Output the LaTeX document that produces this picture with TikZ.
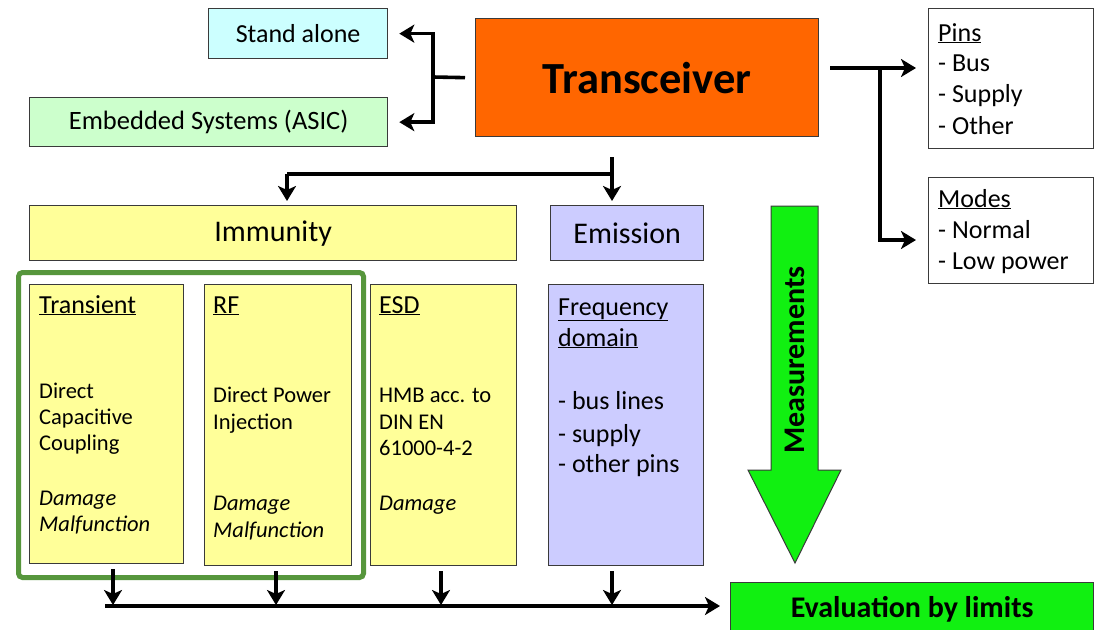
\documentclass[tikz,border=0pt]{standalone}
\usepackage{fontspec}
\setmainfont{Carlito}
\usetikzlibrary{arrows.meta}
\definecolor{cyanbg}{HTML}{CCFFFF}
\definecolor{greenbg}{HTML}{CCFFCC}
\definecolor{orangebg}{HTML}{FF6600}
\definecolor{yellowbg}{HTML}{FFFF99}
\definecolor{lilacbg}{HTML}{CCCCFF}
\definecolor{limebg}{HTML}{11F011}
\definecolor{framegreen}{HTML}{56963C}
\definecolor{edgegray}{HTML}{3A3A3A}
\newcommand{\fsz}[1]{\fontsize{#1}{#1}\selectfont}
\begin{document}
\begin{tikzpicture}[x=1pt,y=-1pt,
  box/.style={draw=edgegray, line width=1.3pt, anchor=north west, inner sep=0pt},
  ln/.style={anchor=base west, inner sep=0pt, text=black},
  hd/.style={ln, font=\fsz{26}},
  bd/.style={ln, font=\fsz{22.5}},
  wire/.style={line width=3.6pt, draw=black},
  conn/.style={wire, -{Stealth[length=15pt,width=18pt,inset=4pt]}},
]
\clip (0,0) rectangle (1099,629);
\fill[white] (0,0) rectangle (1099,629);

% top boxes
\node[box, fill=cyanbg, minimum width=179, minimum height=50, font=\fsz{26}] (stand) at (208,8) {Stand alone};
\node[box, fill=greenbg, minimum width=358, minimum height=49, font=\fsz{26.5}] (embed) at (29,97) {Embedded Systems (ASIC)};
\node[box, fill=orangebg, minimum width=343, minimum height=118, font=\fsz{44.5}\bfseries] (trans) at (475,18) {Transceiver};
\node[box, fill=white, minimum width=165, minimum height=140] (pins) at (928,8) {};
\node[box, fill=white, minimum width=165, minimum height=106] (modes) at (928,177) {};

% category boxes
\node[box, fill=yellowbg, minimum width=487, minimum height=55, font=\fsz{30}] (imm) at (29,205) {Immunity};
\node[box, fill=lilacbg, minimum width=153, minimum height=55, font=\fsz{30}] (emis) at (550,205) {Emission};

% detail boxes
\node[box, fill=yellowbg, minimum width=154, minimum height=279] (trn) at (29,284) {};
\node[box, fill=yellowbg, minimum width=147, minimum height=281] (rf) at (204,284) {};
\node[box, fill=yellowbg, minimum width=146, minimum height=281] (esd) at (370,284) {};
\node[box, fill=lilacbg, minimum width=155, minimum height=281] (freq) at (548,284) {};
\node[draw=framegreen, line width=5pt, rounded corners=4pt, anchor=north west, minimum width=345, minimum height=305, inner sep=0pt] (frame) at (16,270) {};

\node[box, fill=limebg, minimum width=363, minimum height=54, font=\fsz{30}\bfseries] (eval) at (730,582) {Evaluation by limits};

% measurement arrow
\draw[draw=edgegray, line width=1pt, fill=limebg] (771,206) -- (818,206) -- (818,470) -- (841,470) -- (795,563) -- (748,470) -- (771,470) -- cycle;
\node[rotate=90, font=\fsz{30}\bfseries, inner sep=0pt] (meas) at (795,360) {Measurements};

% texts: pins / modes
\node[hd] (p1) at (938,41) {\underline{Pins}};
\node[hd] (p2) at (938,71) {- Bus};
\node[hd] (p3) at (938,102) {- Supply};
\node[hd] (p4) at (938,134) {- Other};
\node[hd] (m1) at (938,207) {\underline{Modes}};
\node[hd] (m2) at (938,238) {- Normal};
\node[hd] (m3) at (938,269) {- Low power};

% transient
\node[hd] (t1) at (39,313) {\underline{Transient}};
\node[bd] (t2) at (39,398) {Direct};
\node[bd] (t3) at (39,424) {Capacitive};
\node[bd] (t4) at (39,450) {Coupling};
\node[bd] (t5) at (39,505) {\textit{Damage}};
\node[bd] (t6) at (39,531) {\textit{Malfunction}};
% RF
\node[hd] (r1) at (213,313) {\underline{RF}};
\node[bd] (r2) at (213,402) {Direct Power};
\node[bd] (r3) at (213,429) {Injection};
\node[bd] (r4) at (213,510) {\textit{Damage}};
\node[bd] (r5) at (213,537) {\textit{Malfunction}};
% ESD
\node[hd] (e1) at (379,313) {\underline{ESD}};
\node[bd] (e2) at (379,402) {HMB acc. to};
\node[bd] (e3) at (379,429) {DIN EN};
\node[bd] (e4) at (379,455) {61000-4-2};
\node[bd] (e5) at (379,510) {\textit{Damage}};
% Frequency
\node[hd] (f1) at (558,315) {\underline{Frequency}};
\node[hd] (f2) at (558,346) {\underline{domain}};
\node[hd] (f3) at (558,409) {- bus lines};
\node[hd] (f4) at (558,442) {- supply};
\node[hd] (f5) at (558,472) {- other pins};

% left connectors
\coordinate (lj) at (433,77);
\draw[wire] ([xshift=-10pt]trans.west) -- (lj);
\draw[conn, shorten >=11pt] (lj) |- (stand.east);
\draw[conn, shorten >=11pt] (lj) |- (embed.east);

% right connectors
\coordinate (rs) at (830,68);
\coordinate (rj) at (880,68);
\coordinate (mrow) at (880,240);
\draw[conn, shorten >=12pt] (rs) -- (rs -| pins.west);
\draw[conn, shorten >=12pt] (rj) -- (mrow) -- (mrow -| modes.west);

% down connectors
\coordinate (dtop) at (612,157);
\coordinate (dl) at (287,174);
\draw[conn, shorten >=4pt] (dtop) -- (dtop |- emis.north);
\draw[wire] (dtop |- dl) -- (dl);
\draw[conn, shorten >=4pt] (dl) -- (dl |- imm.north);

% bottom connectors
\coordinate (bl) at (105,606);
\coordinate (b1) at (113,605);
\coordinate (b2) at (276,605);
\coordinate (b3) at (441,605);
\coordinate (b4) at (612,605);
\draw[conn, shorten <=5pt] (b1 |- trn.south) -- (b1);
\draw[conn, shorten <=5pt] (b2 |- rf.south) -- (b2);
\draw[conn, shorten <=5pt] (b3 |- esd.south) -- (b3);
\draw[conn, shorten <=5pt] (b4 |- freq.south) -- (b4);
\draw[conn, shorten >=10pt] (bl) -- (bl -| eval.west);
\end{tikzpicture}
\end{document}
